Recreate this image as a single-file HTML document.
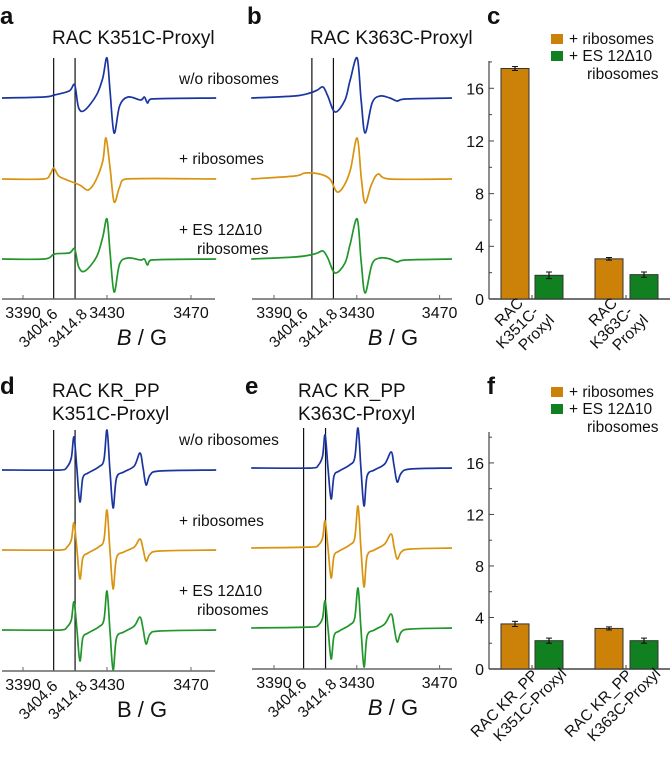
<!DOCTYPE html>
<html><head><meta charset="utf-8"><style>
body{margin:0;background:#fff}
svg text{font-family:"Liberation Sans",sans-serif;fill:#111}
</style></head><body>
<svg id="fig" width="670" height="765" viewBox="0 0 670 765" xmlns="http://www.w3.org/2000/svg"></svg>
<script>
// ---- data ----
const aFields=[3380,3400,3405,3412,3414.6,3416.5,3419.5,3425,3428,3430,3431.5,3433.4,3436,3440,3446,3447.8,3449.3,3451,3482];
const aBlue=[0,1,3,7,13,-10,-12,3,20,40,5,-35,-8,1,-2,1,-5,-1,0];
const aGreen=[0,0,5,6,10,-8,-12,2,22,40,5,-33,-5,1,-1,0,-6,-1,0];
const aOrangeFields=[3380,3400,3403,3404.6,3407,3411,3417,3421,3424.5,3428,3429.5,3431.5,3433.4,3436,3439,3482];
const aOrange=[0,0,5,11,3,-1,-6,-11,-2,18,41,10,-23,-8,0,0];
const bFields=[3379,3400,3407.4,3411,3413.7,3416,3419.5,3424.3,3426.8,3430.2,3432.1,3434,3437.4,3441.3,3446,3449.5,3453.4,3476];
const bBlue=[0,2,5,8,11,2,-14,-2,18,40,-2,-35,-5,2,0,-3,-1,0];
const bGreen=[0,2,4,6,8,1,-14,-4,15,40,-2,-34,-5,1,0,-3,-1,0];
const bOrangeFields=[3379,3400,3405,3412,3417,3420.5,3424,3427,3430.2,3432.2,3434,3437,3440.3,3446,3476];
const bOrange=[0,3,6,5,0,-13,-6,10,41,0,-24,-6,5,0,0];
const dFields=[3380,3408,3411,3413,3414.3,3415.7,3417.1,3418.5,3421,3426,3428.5,3430,3431.4,3432.9,3434.5,3438,3443,3445.7,3447.2,3448.6,3450.5,3455,3482];
const dBlue=[0,0,3,12,33,0,-32,-8,-3,3,10,40,0,-38,-8,-2,4,17,2,-15,-5,-1,0];
const dOrange=[0,0,3,10,27,0,-29,-8,-3,3,10,40,0,-39,-8,-2,3,11,1,-11,-4,-1,0];
const dGreen=[0,0,3,10,28,0,-31,-8,-3,3,10,39,0,-40,-8,-2,4,13,1,-14,-4,-1,0];
const eFields=[3379,3408.5,3411.5,3413.5,3414.7,3416.1,3417.6,3419,3421.5,3426.5,3429,3430.6,3432,3433.5,3435,3438.5,3443.5,3446.6,3448,3449.5,3451.5,3456,3476];
const eBlue=[0,0,3,12,33,0,-31,-8,-3,3,10,40,0,-38,-8,-2,4,16,2,-14,-5,-1,0];
const eOrange=[0,1,3,10,27,0,-30,-8,-3,3,10,42,0,-39,-8,-2,4,14,1,-11,-4,-1,0];
const eGreen=[0,1,3,10,27,0,-31,-8,-3,3,10,40,0,-39,-8,-2,4,14,1,-14,-4,-1,0];
const fieldTicks=[3390,3430,3470];
const refLabels=["3404.6","3414.8"];
const cValues=[17.5,1.8,3.05,1.85];
const cErrors=[0.15,0.25,0.1,0.2];
const fValues=[3.5,2.2,3.15,2.2];
const fErrors=[0.2,0.2,0.12,0.2];
const barTicks=[0,4,8,12,16];
// ---- drawing ----
const S=document.getElementById('fig');const NS='http://www.w3.org/2000/svg';
function el(t,a,p){const e=document.createElementNS(NS,t);for(const k in a)e.setAttribute(k,a[k]);(p||S).appendChild(e);return e;}
function txt(s,x,y,a,p){const e=el('text',Object.assign({x:x,y:y,'font-size':13},a||{}),p);e.textContent=s;return e;}
function smooth(P){let d='M'+P[0][0].toFixed(1)+','+P[0][1].toFixed(1);
  for(let i=0;i<P.length-1;i++){const p0=P[Math.max(i-1,0)],p1=P[i],p2=P[i+1],p3=P[Math.min(i+2,P.length-1)];
    const t=0.25;
    const c1=[p1[0]+(p2[0]-p0[0])*t/1.5,p1[1]+(p2[1]-p0[1])*t/1.5],c2=[p2[0]-(p3[0]-p1[0])*t/1.5,p2[1]-(p3[1]-p1[1])*t/1.5];
    c1[0]=Math.min(Math.max(c1[0],p1[0]),p2[0]);c2[0]=Math.min(Math.max(c2[0],p1[0]),p2[0]);
    d+=' C'+c1[0].toFixed(1)+','+c1[1].toFixed(1)+' '+c2[0].toFixed(1)+','+c2[1].toFixed(1)+' '+p2[0].toFixed(1)+','+p2[1].toFixed(1);}
  return d;}
const BLUE='#1a35a0',ORANGE='#d8930f',GREEN='#21962a';
function spectrum(P){
  const g=el('g',{});
  
  
  const X=f=>P.x0+(f-3390)*P.k;
  P.refs.forEach((r,i)=>{const l=el('line',{x1:X(r),x2:X(r),y1:P.top,y2:P.axisY,stroke:'#111','stroke-width':1.2},g);
    
    
    const lx=X(r)+P.ldx[i],ly=P.axisY+16;
    const t=txt(refLabels[i],lx,ly,{'text-anchor':'end','font-size':15.5,transform:`rotate(-45 ${lx} ${ly})`},g);
    
    });
  P.traces.forEach(tr=>{const pts=tr.f.map((f,i)=>[X(f),tr.base-tr.v[i]]);
    const pl=el('path',{d:smooth(pts),fill:'none',stroke:tr.c,'stroke-width':1.7,'stroke-linejoin':'round'},g);
    
    });
  const ax=el('line',{x1:P.xl,x2:P.xr,y1:P.axisY,y2:P.axisY,stroke:'#666','stroke-width':1.4},g);
  
  
  fieldTicks.forEach(f=>{el('line',{x1:X(f),x2:X(f),y1:P.axisY-4,y2:P.axisY,stroke:'#666'},g);
    const t=txt(String(f),X(f),P.axisY+19,{'text-anchor':'middle','font-size':16},g);
    
    });
  const xt=el('text',{x:P.x0+119,y:P.axisY+46,'font-size':22,'text-anchor':'middle'},g);
  xt.innerHTML=(P.italic?'<tspan font-style="italic">B</tspan>':'B')+' / G';
  
  
}
spectrum({name:'panel-a-spectra',x0:23,k:2.1,xl:2,xr:215,top:58,axisY:299,refs:[3404.6,3414.8],ldx:[5,13],italic:true,
 traces:[{f:aFields,v:aBlue,base:98,c:BLUE,n:'trace-without-ribosomes'},{f:aOrangeFields,v:aOrange,base:179,c:ORANGE,n:'trace-ribosomes'},{f:aFields,v:aGreen,base:259,c:GREEN,n:'trace-es12d10'}]});
spectrum({name:'panel-b-spectra',x0:274,k:2.07,xl:252,xr:452,top:58,axisY:299,refs:[3408.3,3418.7],ldx:[-3,5],italic:true,
 traces:[{f:bFields,v:bBlue,base:98,c:BLUE,n:'trace-without-ribosomes'},{f:bOrangeFields,v:bOrange,base:179,c:ORANGE,n:'trace-ribosomes'},{f:bFields,v:bGreen,base:259,c:GREEN,n:'trace-es12d10'}]});
spectrum({name:'panel-d-spectra',x0:23,k:2.1,xl:2,xr:215,top:430,axisY:671,refs:[3404.6,3414.8],ldx:[5,13],italic:false,
 traces:[{f:dFields,v:dBlue,base:470,c:BLUE,n:'trace-without-ribosomes'},{f:dFields,v:dOrange,base:550,c:ORANGE,n:'trace-ribosomes'},{f:dFields,v:dGreen,base:630,c:GREEN,n:'trace-es12d10'}]});
spectrum({name:'panel-e-spectra',x0:274,k:2.07,xl:252,xr:452,top:428,axisY:669,refs:[3404.3,3414.9],ldx:[4,12],italic:true,
 traces:[{f:eFields,v:eBlue,base:468,c:BLUE,n:'trace-without-ribosomes'},{f:eFields,v:eOrange,base:548,c:ORANGE,n:'trace-ribosomes'},{f:eFields,v:eGreen,base:628,c:GREEN,n:'trace-es12d10'}]});

function bars(P){
  const g=el('g',{});
  
  
  const Y=v=>P.y0-v*P.k;
  const ya=el('line',{x1:489,x2:489,y1:P.top,y2:P.y0,stroke:'#444','stroke-width':1.2},g);
  
  
  const xa=el('line',{x1:489,x2:670,y1:P.y0,y2:P.y0,stroke:'#444','stroke-width':1.4},g);
  
  
  for(let v=0;v<=18;v+=2){el('line',{x1:489,x2:v%4==0?494:492,y1:Y(v),y2:Y(v),stroke:'#444'},g);}
  barTicks.forEach(v=>{const t=txt(String(v),484,Y(v)+6,{'text-anchor':'end','font-size':16},g);
    
    });
  const xs=[501,535,595,630];
  P.vals.forEach((v,i)=>{const r=el('rect',{x:xs[i],y:Y(v),width:28,height:P.y0-Y(v),fill:i%2?'#118020':'#cc8208',stroke:'#333','stroke-width':1},g);
    
    
    const cx=xs[i]+14,e=P.errs[i];
    el('line',{x1:cx,x2:cx,y1:Y(v+e),y2:Y(v-e),stroke:'#111','stroke-width':1.2},g);
    el('line',{x1:cx-3,x2:cx+3,y1:Y(v+e),y2:Y(v+e),stroke:'#111'},g);
    el('line',{x1:cx-3,x2:cx+3,y1:Y(v-e),y2:Y(v-e),stroke:'#111'},g);});
  el('line',{x1:532,x2:532,y1:P.y0-4,y2:P.y0,stroke:'#444'},g);
  el('line',{x1:626,x2:626,y1:P.y0-4,y2:P.y0,stroke:'#444'},g);
  const ly=P.legY;
  const l1=el('rect',{x:551,y:ly,width:12,height:10,fill:'#cc8208'},g);
  
  
  const l2=el('rect',{x:551,y:ly+17,width:12,height:10,fill:'#118020'},g);
  
  
  const t1=txt('+ ribosomes',569,ly+10,{'font-size':15.5},g);
  
  
  const t2=txt('+ ES 12Δ10',569,ly+27,{'font-size':15.5},g);
  
  
  txt('ribosomes',587,ly+45,{'font-size':15.5},g);
  P.cats.forEach((lines,ci)=>{const ex=P.catX[ci],ey=P.catY;
    const t=el('text',{'font-size':15.5,'text-anchor':'end',transform:`translate(${ex} ${ey}) rotate(-45)`},g);
    
    
    lines.forEach((s,li)=>{const sp=el('tspan',{x:li*P.dx,y:li*P.dy},t);sp.textContent=s;});});
}
bars({name:'panel-c-bars',y0:299,k:13.17,top:61,vals:cValues,errs:cErrors,legY:34,dx:5,dy:17,catY:304,
 cats:[["RAC","K351C-","Proxyl"],["RAC","K363C-","Proxyl"]],catX:[524,618]});
bars({name:'panel-f-bars',y0:669,k:12.88,top:432,vals:fValues,errs:fErrors,legY:387,dx:21,dy:19,catY:676,
 cats:[["RAC KR_PP","K351C-Proxyl"],["RAC KR_PP","K363C-Proxyl"]],catX:[539,633]});

[['a',0,24],['b',247,24],['c',487,24],['d',0,394],['e',245,394],['f',487,394]].forEach(p=>{const t=txt(p[0],p[1],p[2],{'font-size':24,'font-weight':'bold'});
  
  });
[['RAC K351C-Proxyl',52,44],['RAC K363C-Proxyl',310,44],['RAC KR_PP',52,397],['K351C-Proxyl',52,420],['RAC KR_PP',298,397],['K363C-Proxyl',298,420]].forEach(p=>{const t=txt(p[0],p[1],p[2],{'font-size':19});
  
  });
[[84,164,235,254],[445,526,596,615]].forEach(ys=>{
  [['w/o ribosomes',179,ys[0]],['+ ribosomes',179,ys[1]],['+ ES 12Δ10',179,ys[2]],['ribosomes',197,ys[3]]].forEach(p=>{const t=txt(p[0],p[1],p[2],{'font-size':15.5});
    
    });});
</script>
</body></html>
